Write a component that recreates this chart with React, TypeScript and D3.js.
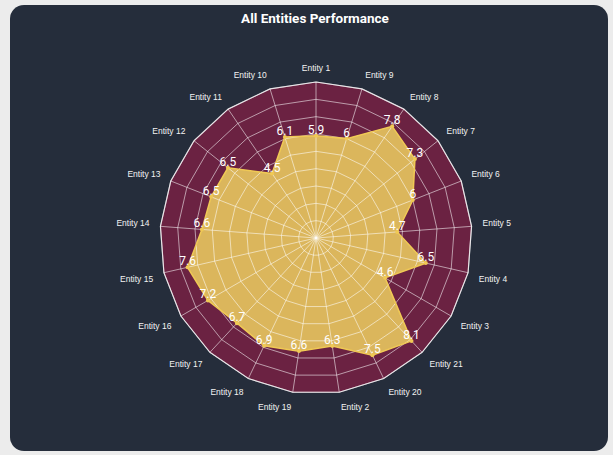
import React from "react";
import * as d3 from "d3";

const entities = [
  "Entity 1", "Entity 9", "Entity 8", "Entity 7", "Entity 6", "Entity 5", "Entity 4",
  "Entity 3", "Entity 21", "Entity 20", "Entity 2", "Entity 19", "Entity 18", "Entity 17",
  "Entity 16", "Entity 15", "Entity 14", "Entity 13", "Entity 12", "Entity 11", "Entity 10",
];
const values = [5.9, 6, 7.8, 7.3, 6, 4.7, 6.5, 4.6, 8.1, 7.5, 6.3, 6.6, 6.9, 6.7, 7.2, 7.6, 6.6, 6.5, 6.5, 4.5, 6.1];
const ringTicks = [1, 2, 3, 4, 5, 6, 7, 8, 9];
const title = "All Entities Performance";

const W = 613, H = 455;
const cx = 316, cy = 238, R = 156, maxV = 9;

export default function App() {
  const n = entities.length;
  const r = d3.scaleLinear().domain([0, maxV]).range([0, R]);
  const ang = (i: number) => (i * 2 * Math.PI) / n;
  const pt = (i: number, rad: number): [number, number] => [
    cx + rad * Math.sin(ang(i)),
    cy - rad * Math.cos(ang(i)),
  ];
  const ringPath = (rad: number) => {
    const pts = d3.range(n).map((i) => pt(i, rad));
    return d3.line()(pts.concat([pts[0]])) + "Z";
  };
  const dataPts = values.map((v, i) => pt(i, r(v)));
  const dataPath = d3.line()(dataPts.concat([dataPts[0]])) + "Z";
  const labelR = R + 11;

  return (
    <svg width={W} height={H} style={{ position: "absolute", left: 0, top: 0 }}>
      <rect x={0} y={0} width={W} height={H} fill="#ececec" />
      <rect x={10} y={5} width={598} height={446} rx={14} fill="#252d3b" />
      <text x={315} y={23} textAnchor="middle" fill="#ffffff" fontFamily="Roboto, sans-serif" fontWeight="bold" fontSize={13.5}>
        {title}
      </text>
      <path d={ringPath(R)} fill="#6b2242" />
      <path d={dataPath} fill="#dbb65c" />
      {ringTicks.map((t) => (
        <path key={t} d={ringPath(r(t))} fill="none" stroke="rgba(255,255,255,0.55)" strokeWidth={1} />
      ))}
      {entities.map((e, i) => {
        const [x, y] = pt(i, R);
        return <line key={e} x1={cx} y1={cy} x2={x} y2={y} stroke="rgba(255,255,255,0.55)" strokeWidth={1} />;
      })}
      <path d={ringPath(R)} fill="none" stroke="rgba(255,255,255,0.75)" strokeWidth={1.2} />
      <path d={dataPath} fill="none" stroke="#f0c955" strokeWidth={1.5} />
      {dataPts.map(([x, y], i) => (
        <circle key={i} cx={x} cy={y} r={2} fill="#f0c955" />
      ))}
      {dataPts.map(([x, y], i) => (
        <text key={"v" + i} x={x} y={y - 2} textAnchor="middle" fill="#ffffff" fontFamily="Roboto, sans-serif" fontSize={12}>
          {values[i]}
        </text>
      ))}
      {entities.map((e, i) => {
        const deg = (i * 360) / n;
        const [x, y] = pt(i, labelR);
        const anchor = deg === 0 || deg === 180 ? "middle" : deg < 180 ? "start" : "end";
        const top = deg < 90 || deg > 270;
        return (
          <text
            key={"l" + e}
            x={x}
            y={top ? y : y + 7}
            textAnchor={anchor}
            fill="#f2f2f2"
            fontFamily="'Liberation Sans', Arial, sans-serif"
            fontSize={8.5}
          >
            {e}
          </text>
        );
      })}
    </svg>
  );
}
